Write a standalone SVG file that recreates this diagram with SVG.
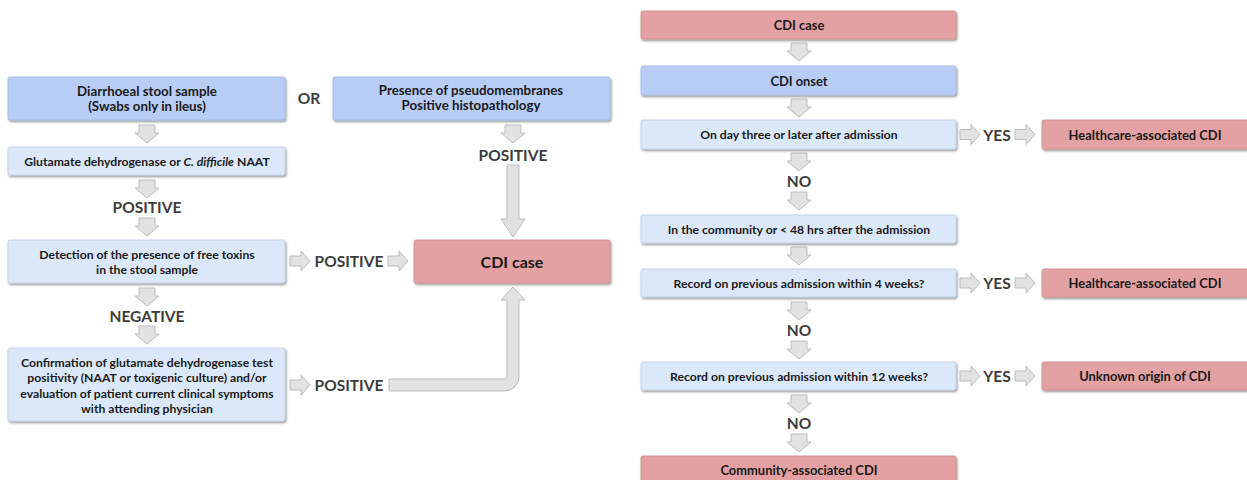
<svg xmlns="http://www.w3.org/2000/svg" width="1247" height="480" viewBox="0 0 1247 480">
<defs>
<filter id="sh" x="-5%" y="-20%" width="110%" height="150%">
<feDropShadow dx="1" dy="1.5" stdDeviation="0.9" flood-color="#000" flood-opacity="0.45"/>
</filter>
<path id="da" d="M-8,0 H8 V8 H12 L0,18 L-12,8 H-8 Z"/>
<path id="ra" d="M0,-5 H11 V-10 L20,0 L11,10 V5 H0 Z"/>
</defs>
<style>
.blue{fill:#b7cdf6;stroke:#a3b9e2;stroke-width:0.8;filter:url(#sh)}
.lblue{fill:#dbe8f9;stroke:#bfcde2;stroke-width:0.8;filter:url(#sh)}
.red{fill:#e3a1a3;stroke:#cf8c8e;stroke-width:0.8;filter:url(#sh)}
.arr{fill:#e2e2e2;stroke:#bcbcbc;stroke-width:1}
text{font-family:Lato,"Open Sans","Liberation Sans",sans-serif;font-weight:700;text-anchor:middle;dominant-baseline:central}
.t{font-size:12.2px;fill:#1a1a1a}
.tb{font-size:13.3px;fill:#1a1a1a}
.tr{font-size:12.2px;fill:#1a1a1a}
.trb{font-size:12.9px;fill:#1a1a1a}
.lab{font-size:15.5px;fill:#3c3c3c}
.big{font-size:16px;fill:#1a1a1a}
</style>
<rect width="1247" height="480" fill="#ffffff"/>

<g id="connectors">
<use href="#da" class="arr" x="147" y="125"/>
<use href="#da" class="arr" x="147" y="180"/>
<use href="#da" class="arr" x="147" y="218"/>
<use href="#da" class="arr" x="147" y="288"/>
<use href="#da" class="arr" x="147" y="326"/>
<use href="#ra" class="arr" x="290" y="261"/>
<use href="#ra" class="arr" x="388" y="261"/>
<use href="#ra" class="arr" x="290" y="385"/>
<use href="#da" class="arr" x="513" y="125"/>
<path class="arr" d="M507,165 H519 V219 H525 L513,237 L501,219 H507 Z"/>
<path class="arr" d="M389,379 H505 A2,2 0 0 0 507,377 V300 H501 L513,287 L525,300 H519 V377 A14,14 0 0 1 505,391 H389 Z"/>
<use href="#da" class="arr" x="799" y="43"/>
<use href="#da" class="arr" x="799" y="99"/>
<use href="#da" class="arr" x="799" y="153"/>
<use href="#da" class="arr" x="799" y="192"/>
<use href="#da" class="arr" x="799" y="247"/>
<use href="#da" class="arr" x="799" y="302"/>
<use href="#da" class="arr" x="799" y="341"/>
<use href="#da" class="arr" x="799" y="395"/>
<use href="#da" class="arr" x="799" y="434"/>
<use href="#ra" class="arr" x="960" y="134.5"/>
<use href="#ra" class="arr" x="1015" y="134.5"/>
<use href="#ra" class="arr" x="960" y="283"/>
<use href="#ra" class="arr" x="1015" y="283"/>
<use href="#ra" class="arr" x="960" y="376"/>
<use href="#ra" class="arr" x="1015" y="376"/>
<text class="lab" x="147" y="207">POSITIVE</text>
<text class="lab" x="147" y="316">NEGATIVE</text>
<text class="lab" x="349" y="261">POSITIVE</text>
<text class="lab" x="349" y="385">POSITIVE</text>
<text class="lab" x="513" y="155">POSITIVE</text>
<text class="lab" x="309" y="98">OR</text>
<text class="lab" x="799" y="181">NO</text>
<text class="lab" x="799" y="330">NO</text>
<text class="lab" x="799" y="423">NO</text>
<text class="lab" x="997" y="134.5">YES</text>
<text class="lab" x="997" y="283">YES</text>
<text class="lab" x="997" y="376">YES</text>
</g>

<g id="stool">
<rect class="blue" x="8" y="77" width="277" height="43" rx="2"/>
<text class="tb" x="147" y="91">Diarrhoeal stool sample</text>
<text class="tb" x="147" y="106">(Swabs only in ileus)</text>
</g>
<g id="gdh">
<rect class="lblue" x="8" y="147" width="277" height="28" rx="2"/>
<text class="t" x="147" y="161">Glutamate dehydrogenase or <tspan font-style="italic">C. difficile</tspan> NAAT</text>
</g>
<g id="toxins">
<rect class="lblue" x="8" y="240" width="277" height="43" rx="2"/>
<text class="t" x="147" y="254">Detection of the presence of free toxins</text>
<text class="t" x="147" y="269">in the stool sample</text>
</g>
<g id="confirm">
<rect class="lblue" x="8" y="348" width="277" height="73" rx="2"/>
<text class="t" x="147" y="362">Confirmation of glutamate dehydrogenase test</text>
<text class="t" x="147" y="377">positivity (NAAT or toxigenic culture) and/or</text>
<text class="t" x="147" y="393">evaluation of patient current clinical symptoms</text>
<text class="t" x="147" y="408">with attending physician</text>
</g>
<g id="pseudo">
<rect class="blue" x="333" y="77" width="277" height="43" rx="2"/>
<text class="tb" x="471" y="90">Presence of pseudomembranes</text>
<text class="tb" x="471" y="105">Positive histopathology</text>
</g>
<g id="cdicase1">
<rect class="red" x="414" y="240" width="196" height="43" rx="2"/>
<text class="big" x="512" y="261">CDI case</text>
</g>

<g id="cdicase2">
<rect class="red" x="641" y="11" width="315" height="28" rx="2"/>
<text class="trb" x="799" y="25">CDI case</text>
</g>
<g id="onset">
<rect class="blue" x="641" y="66" width="315" height="29" rx="2"/>
<text class="trb" x="799" y="80.5">CDI onset</text>
</g>
<g id="day3">
<rect class="lblue" x="641" y="120" width="315" height="29" rx="2"/>
<text class="tr" x="799" y="134.5">On day three or later after admission</text>
</g>
<g id="community">
<rect class="lblue" x="641" y="215" width="315" height="28" rx="2"/>
<text class="tr" x="799" y="229">In the community or &lt; 48 hrs after the admission</text>
</g>
<g id="rec4">
<rect class="lblue" x="641" y="269" width="315" height="28" rx="2"/>
<text class="tr" x="799" y="283">Record on previous admission within 4 weeks?</text>
</g>
<g id="rec12">
<rect class="lblue" x="641" y="362" width="315" height="28" rx="2"/>
<text class="tr" x="799" y="376">Record on previous admission within 12 weeks?</text>
</g>
<g id="commassoc">
<rect class="red" x="641" y="456" width="315" height="30" rx="2"/>
<text class="trb" x="799" y="470">Community-associated CDI</text>
</g>
<g id="hca1">
<rect class="red" x="1042" y="120" width="207" height="29" rx="2"/>
<text class="trb" x="1145" y="134.5">Healthcare-associated CDI</text>
</g>
<g id="hca2">
<rect class="red" x="1042" y="269" width="207" height="28" rx="2"/>
<text class="trb" x="1145" y="283">Healthcare-associated CDI</text>
</g>
<g id="unknown">
<rect class="red" x="1042" y="362" width="207" height="28" rx="2"/>
<text class="trb" x="1145" y="376">Unknown origin of CDI</text>
</g>
</svg>
